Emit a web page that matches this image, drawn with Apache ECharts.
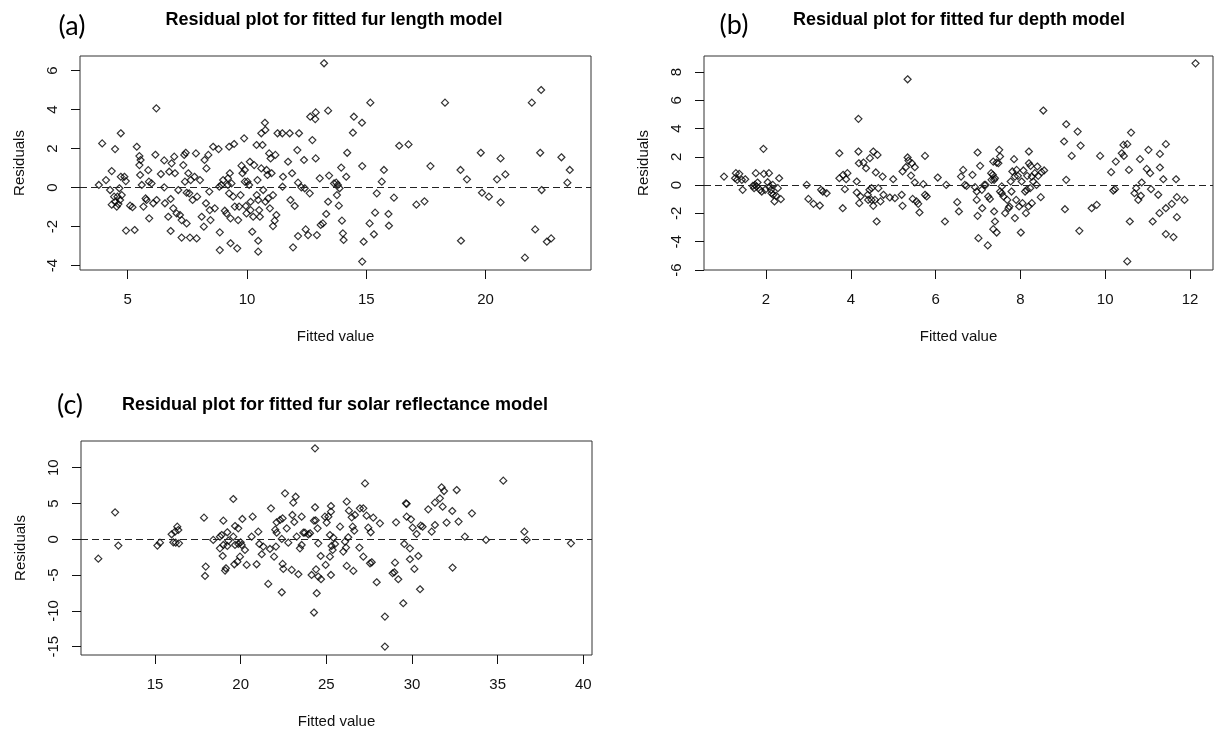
<!DOCTYPE html>
<html>
<head>
<meta charset="utf-8">
<title>Residual plots</title>
<script src="https://cdn.jsdelivr.net/npm/echarts@6.0.0/dist/echarts.min.js"></script>
<style>
  html, body { margin: 0; padding: 0; background: #fff; }
  #chart { width: 1215px; height: 731px; }
</style>
</head>
<body>
<div id="chart"></div>
<script>
// (a) fur length model
const lengthFitted = [
  3.79, 3.93, 4.09, 4.33, 4.26, 4.47, 4.33, 4.43, 4.47, 4.54, 4.61, 4.68, 4.57, 4.75, 4.65, 4.71, 4.86, 4.71,
  4.92, 4.93, 5.1, 5.2, 5.29, 5.38, 5.49, 5.54, 5.49, 5.52, 5.59, 5.66, 5.75, 5.86, 5.89, 5.79, 5.9, 6.0,
  6.07, 6.16, 6.2, 6.21, 6.39, 6.53, 6.53, 6.56, 6.7, 6.74, 6.8, 6.84, 6.8, 6.91, 6.95, 6.98, 7.05, 7.12,
  7.19, 7.26, 7.26, 7.33, 7.37, 7.43, 7.4, 7.47, 7.54, 7.58, 7.47, 7.61, 7.64, 7.72, 7.8, 7.86, 7.89, 7.91,
  8.03, 8.1, 8.19, 8.22, 8.28, 8.3, 8.38, 8.42, 8.44, 8.47, 8.58, 8.65, 8.81, 8.84, 8.86, 8.86, 8.93, 9.0,
  9.07, 9.14, 9.2, 9.2, 9.25, 9.25, 9.28, 9.31, 9.31, 9.35, 9.42, 9.46, 9.49, 9.59, 9.63, 9.67, 9.73, 9.77,
  9.81, 9.88, 9.91, 9.91, 9.95, 9.98, 10.02, 10.09, 10.12, 10.15, 10.15, 10.22, 10.26, 10.3, 10.4, 10.41,
  10.44, 10.47, 10.47, 10.47, 10.51, 10.54, 10.6, 10.65, 10.6, 10.68, 10.75, 10.77, 10.77, 10.82, 10.86,
  10.89, 10.93, 10.96, 10.99, 11.03, 11.09, 11.09, 11.16, 11.19, 11.23, 11.28, 11.48, 11.49, 11.51, 11.72,
  11.79, 11.82, 11.89, 11.93, 12.0, 12.11, 12.14, 12.14, 12.18, 12.39, 12.28, 12.42, 12.63, 12.74, 12.65,
  12.88, 12.86, 12.88, 13.05, 13.23, 13.4, 13.4, 13.44, 13.32, 13.18, 13.09, 12.93, 12.56, 12.46, 13.65,
  13.74, 13.81, 13.88, 13.77, 13.85, 13.95, 13.98, 14.02, 14.05, 14.16, 14.2, 14.44, 14.48, 14.82, 14.83,
  14.89, 14.83, 15.17, 15.14, 15.32, 15.37, 15.44, 15.65, 15.74, 15.93, 15.95, 16.16, 16.38, 16.77, 17.1,
  17.44, 17.69, 18.3, 18.95, 18.97, 19.22, 19.8, 19.85, 20.14, 20.48, 20.63, 20.63, 20.83, 21.65, 21.94,
  22.08, 22.33, 22.29, 22.35, 22.57, 22.75, 23.18, 23.53, 23.43
]
const lengthResid = [
  0.14, 2.27, 0.39, 0.85, -0.12, 1.98, -0.87, -0.46, -0.72, -0.97, -0.84, -0.63, -0.46, -0.38, -0.03, 0.56, 0.56, 2.79,
  0.34, -2.2, -0.92, -1.0, -2.17, 2.1, 1.62, 1.42, 1.16, 0.65, 0.14, -0.97, -0.55, 0.9, 0.31, -0.63, -1.57, 0.22,
  -0.8, 1.69, 4.07, -0.63, 0.7, 1.4, 0.02, -0.8, -1.49, 0.82, -0.58, 1.25, -2.22, -1.06, 1.59, 0.74, -1.32, -0.12,
  -1.4, -1.66, -2.56, 1.16, 1.68, 1.79, 0.31, -0.26, 0.74, -0.29, -1.83, -2.56, 0.39, -0.63, 0.56, 1.76, -2.6, -0.46,
  0.39, -1.49, -2.0, 1.42, -0.8, 0.99, 1.68, -0.2, -1.15, -1.66, 2.1, -1.06, 1.98, 0.05, -3.2, -2.29, 0.14, 0.39,
  -1.18, -1.32, 0.48, 0.14, 2.1, -0.29, 0.74, -1.57, -2.85, 0.22, -0.46, 2.24, -0.97, -3.11, -1.66, -0.97, -0.38, 1.13,
  0.74, 2.53, 0.31, 0.91, -0.94, -1.32, 0.31, 0.14, 1.33, -0.72, -1.15, -2.26, -1.49, 1.16, 2.19, -0.38,
  0.39, -0.63, -2.72, -3.28, -1.15, -1.49, 2.79, 2.19, 0.99, -0.12, 3.33, 2.96, -0.72, 0.91, 0.65,
  -0.55, 1.76, -1.06, 1.5, 0.74, -1.97, -0.38, -1.69, 1.68, -1.4, 2.79, 2.79, 0.05, 0.56, 1.33,
  2.79, -0.63, 0.74, -3.06, -0.94, 1.93, -2.48, 0.26, 2.79, 1.42, 0.02, -0.03, -0.29, 2.44, 3.64,
  3.86, 3.52, 1.5, 0.48, 6.38, 3.95, -0.72, 0.62, -1.35, -1.83, -1.91, -2.43, -2.43, -2.14, 0.22,
  0.26, 0.14, -0.03, -0.38, -0.92, 1.03, -1.69, -2.34, -2.68, 0.56, 1.79, 2.82, 3.64, 3.33, 1.11,
  -2.77, -3.79, 4.36, -1.83, -2.39, -1.28, -0.29, 0.31, 0.91, -1.35, -1.95, -0.51, 2.15, 2.22, -0.87,
  -0.7, 1.11, 4.36, 0.91, -2.72, 0.43, 1.79, -0.26, -0.46, 0.43, 1.5, -0.75, 0.68, -3.59, 4.36,
  -2.14, 5.01, 1.79, -0.12, -2.77, -2.6, 1.56, 0.91, 0.26
]

// (b) fur depth model
const depthFitted = [
  1.01, 1.29, 1.37, 1.32, 1.27, 1.43, 1.45, 1.51, 1.69, 1.72, 1.76, 1.74, 1.78, 1.8, 1.86, 1.9, 1.94, 1.95,
  1.98, 2.04, 2.07, 2.09, 2.12, 2.13, 2.16, 2.17, 2.2, 2.24, 2.28, 2.31, 2.35, 2.96, 3.0, 3.12, 3.27, 3.3,
  3.34, 3.43, 3.73, 3.73, 3.82, 3.81, 3.86, 3.92, 3.89, 4.14, 4.18, 4.18, 4.14, 4.19, 4.2, 4.23, 4.3, 4.36,
  4.4, 4.41, 4.44, 4.45, 4.49, 4.49, 4.53, 4.53, 4.57, 4.59, 4.61, 4.63, 4.65, 4.7, 4.75, 4.77, 4.92, 5.0,
  5.04, 5.2, 5.22, 5.22, 5.3, 5.34, 5.34, 5.36, 5.42, 5.44, 5.46, 5.51, 5.51, 5.55, 5.59, 5.62, 5.71, 5.75,
  5.75, 5.79, 6.05, 6.22, 6.25, 6.51, 6.55, 6.6, 6.65, 6.69, 6.73, 6.87, 6.93, 6.97, 6.97, 6.99, 6.99, 7.01,
  7.05, 7.09, 7.1, 7.15, 7.18, 7.23, 7.24, 7.28, 7.31, 7.32, 7.35, 7.36, 7.38, 7.38, 7.36, 7.4, 7.4, 7.44,
  7.44, 7.48, 7.5, 7.52, 7.52, 7.56, 7.56, 7.6, 7.64, 7.69, 7.72, 7.74, 7.77, 7.79, 7.81, 7.85, 7.87, 7.87,
  7.9, 7.91, 7.94, 7.97, 8.01, 8.03, 8.05, 8.07, 8.11, 8.13, 8.15, 8.16, 8.19, 8.2, 8.2, 8.23, 8.24, 8.27,
  8.27, 8.3, 8.34, 8.38, 8.4, 8.42, 8.48, 8.5, 8.54, 8.56, 9.03, 9.05, 9.08, 9.08, 9.21, 9.35, 9.39, 9.42,
  9.68, 9.8, 9.88, 10.14, 10.19, 10.23, 10.25, 10.39, 10.43, 10.44, 10.52, 10.56, 10.52, 10.58, 10.61, 10.69,
  10.73, 10.78, 10.84, 10.82, 10.86, 10.98, 11.02, 11.06, 11.08, 11.12, 11.25, 11.28, 11.29, 11.29, 11.37, 11.43,
  11.43, 11.57, 11.67, 11.69, 11.69, 11.43, 11.61, 11.87, 12.13
]
const depthResid = [
  0.61, 0.85, 0.8, 0.38, 0.49, 0.38, -0.33, 0.42, -0.05, -0.21, 0.85, 0.02, -0.09, 0.19, -0.33, -0.45, 2.57, 0.8,
  -0.33, 0.21, 0.85, -0.09, -0.33, -0.57, 0.02, -0.68, -1.15, -0.75, -0.21, 0.49, -0.99, 0.02, -0.97, -1.32, -1.44, -0.33,
  -0.45, -0.57, 2.26, 0.49, 0.73, -1.63, -0.28, 0.85, 0.42, 0.26, 4.69, 2.38, -0.52, 1.55, -1.27, -0.8, 1.6, 1.2,
  -0.68, -1.04, -0.33, 1.91, -1.04, -0.21, 2.38, -1.46, -1.04, 0.9, -2.57, 2.14, -0.21, -1.15, 0.61, -0.68, -0.87, 0.42,
  -0.92, -0.68, -1.46, 0.97, 1.27, 7.49, 1.96, 1.74, 0.68, 1.55, -0.97, 1.27, 0.19, -1.15, -1.32, -1.93, 0.07, 2.07,
  -0.68, -0.8, 0.54, -2.57, 0.02, -1.2, -1.86, 0.61, 1.08, 0.02, -0.05, 0.73, -0.14, -1.04, -0.45, 2.31, -2.17, -3.75,
  1.37, -0.33, -1.63, 0.02, 0.02, -4.26, -0.8, -0.97, 0.85, 0.38, 0.73, 1.67, 0.38, -1.86, -3.11, 0.49, -2.57, -3.35,
  1.6, 1.55, 2.5, 2.03, -0.45, -0.09, -0.57, -0.8, -1.98, -1.04, -1.63, -1.51, 0.26, -0.45, 0.97, 1.84, -2.33, 0.61,
  -1.04, 1.08, 0.66, -1.51, -3.35, 0.26, -1.27, 1.04, -0.45, -1.98, -0.33, 0.66, -1.51, 2.38, 1.55, -0.21, 1.37, 0.61,
  -1.27, 0.26, 0.85, 0.02, 1.32, 0.66, -0.85, 0.92, 5.28, 1.04, 3.09, -1.7, 4.31, 0.38, 2.07, 3.79, -3.23, 2.8,
  -1.63, -1.39, 2.07, 0.92, -0.38, -0.28, 1.67, 2.26, 2.85, 2.07, 2.9, 1.08, -5.39, -2.57, 3.72, -0.57,
  -0.21, -1.04, -0.75, 1.84, 0.19, 1.15, 2.5, 0.85, -0.28, -2.57, -0.68, -1.98, 1.25, 2.21, 0.42, -1.63,
  2.9, -1.32, 0.42, -0.85, -2.26, -3.46, -3.67, -1.04, 8.62
]

// (c) fur solar reflectance model
const solarFitted = [
  11.69, 12.67, 12.86, 15.14, 15.29, 15.97, 16.07, 16.17, 16.21, 16.3, 16.36, 16.4, 17.86, 17.96, 17.92, 18.4,
  18.79, 18.89, 18.79, 18.95, 18.99, 18.99, 19.09, 19.14, 19.22, 19.28, 19.22, 19.57, 19.57, 19.67, 19.67, 19.63,
  19.81, 19.86, 19.86, 19.96, 20.0, 20.06, 20.1, 20.25, 20.35, 20.64, 20.7, 20.93, 21.03, 21.09, 21.23, 21.32,
  21.61, 21.71, 21.77, 21.95, 22.02, 22.1, 22.06, 22.1, 22.3, 22.4, 22.4, 22.45, 22.45, 22.49, 22.59, 22.69,
  22.78, 22.98, 23.02, 23.07, 23.13, 23.21, 23.27, 23.37, 23.46, 23.56, 23.56, 23.66, 23.75, 23.95, 24.05, 24.14,
  24.28, 24.34, 24.34, 24.28, 24.38, 24.4, 24.44, 24.49, 24.53, 24.53, 24.69, 24.67, 24.92, 25.02, 24.96, 25.12,
  25.21, 25.21, 25.27, 25.27, 25.27, 25.31, 25.37, 25.41, 25.51, 25.8, 26.09, 25.99, 26.15, 26.19, 26.19, 26.28,
  26.32, 26.48, 26.54, 26.58, 26.63, 26.67, 26.93, 26.96, 27.16, 27.16, 27.26, 27.35, 27.45, 27.55, 27.59, 27.65,
  27.74, 27.94, 28.13, 28.42, 28.42, 28.87, 28.97, 29.01, 29.07, 29.2, 29.49, 29.55, 29.65, 29.69, 29.69, 29.88,
  29.88, 29.94, 30.04, 30.14, 30.27, 30.37, 30.47, 30.51, 30.62, 30.95, 31.15, 31.34, 31.34, 31.63, 31.73, 31.79,
  31.87, 32.02, 32.35, 32.37, 32.61, 32.72, 33.09, 33.5, 34.32, 35.33, 36.56, 36.69, 39.28
]
const solarResid = [
  -2.7, 3.77, -0.88, -0.88, -0.47, 0.7, -0.42, 1.07, -0.47, 1.77, 1.3, -0.56, 3.02, -3.81, -5.12, -0.09,
  0.37, 0.6, -1.26, -2.33, 2.6, -0.79, -4.37, -4.05, 0.98, -0.19, -0.93, 5.63, 0.37, 1.86, -0.79, -3.49,
  -3.12, 1.53, -0.65, -2.42, -0.42, -0.79, 2.84, -1.49, -3.58, 0.37, 3.16, -3.49, 1.07, -0.65, -2.09, -1.02,
  -6.23, -1.35, 4.33, -2.42, 1.35, 0.93, -1.02, 2.37, 2.7, -7.4, 0.05, 2.93, -3.44, -4.14, 6.42, 1.53,
  -0.47, -4.28, 3.4, 5.12, 2.42, 5.95, 0.37, -4.88, -1.26, 3.16, -0.79, 0.93, 0.93, 0.7, 0.84, -4.98,
  -10.23, 12.7, 4.47, 2.6, 2.65, -4.19, -7.53, 1.53, -0.56, -5.21, -5.58, -2.33, 3.16, 2.33, -3.58, 3.16,
  -2.42, 0.6, 4.65, 3.86, -4.98, -0.93, -1.49, 0.23, -0.65, 1.77, -0.33, -1.72, -1.16, 5.26, -3.72, 0.28,
  4.0, 3.07, 1.77, -4.42, 1.21, 3.4, -1.16, 4.33, 4.33, -2.42, 7.81, 3.3, 1.63, -3.35, 0.98, -3.21,
  3.02, -6.0, 2.23, -10.79, -14.98, -4.74, -4.6, -3.26, 2.37, -5.58, -8.93, -0.65, 5.02, 3.16, 4.95, -1.26,
  -2.79, 2.79, 1.63, -4.14, 0.74, -2.33, -6.98, 1.91, 1.77, 4.19, 1.07, 2.0, 5.12, 5.72, 7.26, 4.56,
  6.74, 2.33, 3.95, -3.95, 6.88, 2.47, 0.37, 3.63, -0.09, 8.19, 1.07, -0.09, -0.56
]

// tick labels
const lengthXTicks = [5, 10, 15, 20]
const lengthYTicks = [-4, -2, 0, 2, 4, 6]
const depthXTicks = [2, 4, 6, 8, 10, 12]
const depthYTicks = [-6, -4, -2, 0, 2, 4, 6, 8]
const solarXTicks = [15, 20, 25, 30, 35, 40]
const solarYTicks = [-15, -10, -5, 0, 5, 10]

const titles = [
  'Residual plot for fitted fur length model',
  'Residual plot for fitted fur depth model',
  'Residual plot for fitted fur solar reflectance model'
]
const tags = ['(a)', '(b)', '(c)']

const FONT = '"Liberation Sans", Arial, sans-serif'
const INK = '#111'

// layout of each panel, in pixels of the 1215x731 page
const panels = [
  {
    grid: { left: 80, top: 56, width: 511, height: 214 },
    xMin: 3.0, xMax: 24.42, yMin: -4.221, yMax: 6.754,
    titleAt: [334, 20], tagAt: [72, 26],
    fitted: lengthFitted, resid: lengthResid, xTicks: lengthXTicks, yTicks: lengthYTicks
  },
  {
    grid: { left: 704, top: 56, width: 509, height: 214 },
    xMin: 0.538, xMax: 12.542, yMin: -6.0, yMax: 9.137,
    titleAt: [959, 20], tagAt: [734, 25],
    fitted: depthFitted, resid: depthResid, xTicks: depthXTicks, yTicks: depthYTicks
  },
  {
    grid: { left: 81, top: 441, width: 511, height: 214 },
    xMin: 10.68, xMax: 40.508, yMin: -16.16, yMax: 13.73,
    titleAt: [335, 405], tagAt: [70, 405],
    fitted: solarFitted, resid: solarResid, xTicks: solarXTicks, yTicks: solarYTicks
  }
]

const tickStyle = { color: INK, width: 1 }
const labelStyle = { fontSize: 15, color: INK, fontFamily: FONT }

function buildGrid (p) {
  return Object.assign({ show: true, borderColor: '#333', borderWidth: 1, backgroundColor: 'transparent' }, p.grid)
}

function buildXAxis (p, index) {
  return {
    gridIndex: index,
    type: 'value',
    min: p.xMin,
    max: p.xMax,
    axisLine: { show: false, onZero: false },
    splitLine: { show: false },
    axisTick: { show: true, length: 9, customValues: p.xTicks, lineStyle: tickStyle },
    axisLabel: Object.assign({ customValues: p.xTicks, margin: 22 }, labelStyle),
    name: 'Fitted value',
    nameLocation: 'middle',
    nameGap: 59,
    nameTextStyle: labelStyle
  }
}

function buildYAxis (p, index) {
  return {
    gridIndex: index,
    type: 'value',
    min: p.yMin,
    max: p.yMax,
    axisLine: { show: false, onZero: false },
    splitLine: { show: false },
    axisTick: { show: true, length: 9, customValues: p.yTicks, lineStyle: tickStyle },
    axisLabel: Object.assign({ customValues: p.yTicks, rotate: 90, margin: 20 }, labelStyle),
    name: 'Residuals',
    nameLocation: 'middle',
    nameRotate: 90,
    nameGap: 53,
    nameTextStyle: labelStyle
  }
}

function buildSeries (p, index) {
  return {
    type: 'scatter',
    xAxisIndex: index,
    yAxisIndex: index,
    data: p.fitted.map((x, k) => [x, p.resid[k]]),
    symbol: 'diamond',
    symbolSize: 7,
    itemStyle: { color: 'transparent', borderColor: '#000', borderWidth: 1.2 },
    emphasis: { disabled: true },
    markLine: {
      silent: true,
      symbol: ['none', 'none'],
      label: { show: false },
      lineStyle: { color: '#222', type: [7, 4], width: 1.2 },
      data: [{ yAxis: 0 }]
    }
  }
}

function buildTexts (p, index) {
  return [
    {
      type: 'text',
      x: p.titleAt[0],
      y: p.titleAt[1],
      style: {
        text: titles[index],
        fontSize: 18,
        fontWeight: 'bold',
        fontFamily: FONT,
        fill: '#000',
        align: 'center',
        verticalAlign: 'middle',
        textAlign: 'center',
        textVerticalAlign: 'middle'
      }
    },
    {
      type: 'text',
      x: p.tagAt[0],
      y: p.tagAt[1],
      style: {
        text: tags[index],
        fontSize: 27,
        fontFamily: 'Lato, "Open Sans", sans-serif',
        fill: '#000',
        align: 'center',
        verticalAlign: 'middle',
        textAlign: 'center',
        textVerticalAlign: 'middle'
      }
    }
  ]
}

const chart = echarts.init(document.getElementById('chart'), null, { renderer: 'canvas' })

const option = {
  backgroundColor: '#fff',
  animation: false,
  grid: panels.map(buildGrid),
  xAxis: panels.map(buildXAxis),
  yAxis: panels.map(buildYAxis),
  series: panels.map(buildSeries),
  graphic: panels.map(buildTexts).flat()
}

chart.setOption(option)
</script>
</body>
</html>
